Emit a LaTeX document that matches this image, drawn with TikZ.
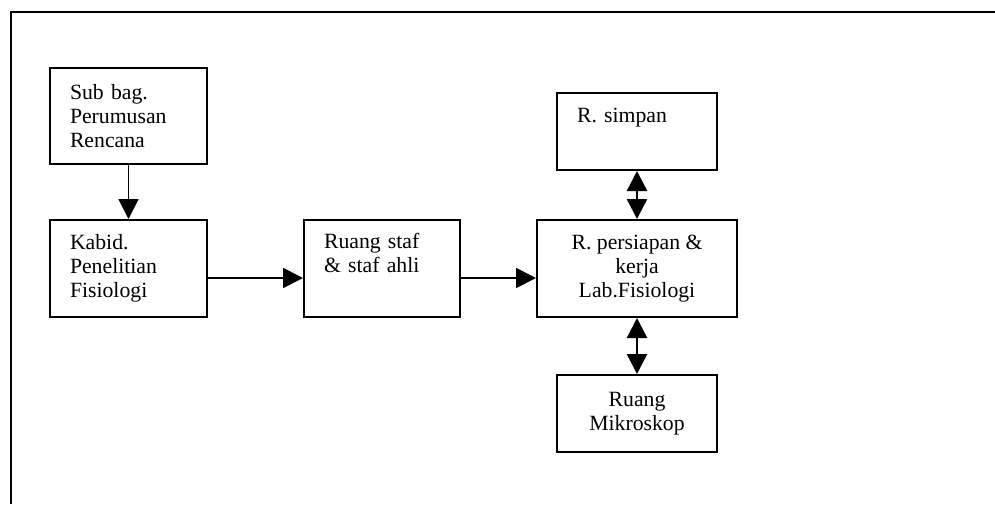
\documentclass[tikz,border=0pt]{standalone}
\usepackage{fontspec}
\setmainfont{Liberation Serif}
\usetikzlibrary{arrows.meta}
\begin{document}
\begin{tikzpicture}[x=0.75pt,y=-0.75pt,
  box/.style={draw,line width=1.5pt,inner sep=0pt,minimum width=#1,
    font=\fontsize{16.3}{18.2}\selectfont},
  boxl/.style={box=#1,align=left},
  boxc/.style={box=#1,align=center},
  arr/.style={line width=1.4pt,-{Triangle[length=15pt,width=15pt]}},
  darr/.style={line width=1.8pt,{Triangle[length=15pt,width=15pt]}-{Triangle[length=15pt,width=15pt]}}]
\useasboundingbox (0,0) rectangle (995,504);
\draw[line width=1.6pt] (995,12) -- (11,12) -- (11,504);
\node[boxl=117.75pt,minimum height=72pt,text width=87.75pt] (sub) at (128.5,116)
  {Sub bag.\\Perumusan\\Rencana};
\node[boxl=117.75pt,minimum height=72.75pt,text width=87.75pt] (kabid) at (128.5,268.5)
  {Kabid.\\Penelitian\\Fisiologi};
\node[boxl=117pt,minimum height=72.75pt,text width=87pt] (staf) at (382,268.5)
  {Ruang staf\\\& staf ahli\\\strut};
\node[boxc=150pt,minimum height=72.75pt] (prep) at (637,268.5)
  {R. persiapan \&\\kerja\\Lab.Fisiologi};
\node[boxl=120pt,minimum height=57.75pt,text width=90pt] (simpan) at (637,131.5)
  {R. simpan\\\strut};
\node[boxc=120pt,minimum height=57.75pt] (mikro) at (637,413.5)
  {Ruang\\Mikroskop};
\draw[arr] (sub) -- (kabid);
\draw[arr] (kabid.east |- 0,278) -- (staf.west |- 0,278);
\draw[arr] (staf.east |- 0,278) -- (prep.west |- 0,278);
\draw[darr] (simpan) -- (prep);
\draw[darr] (prep) -- (mikro);
\end{tikzpicture}
\end{document}
